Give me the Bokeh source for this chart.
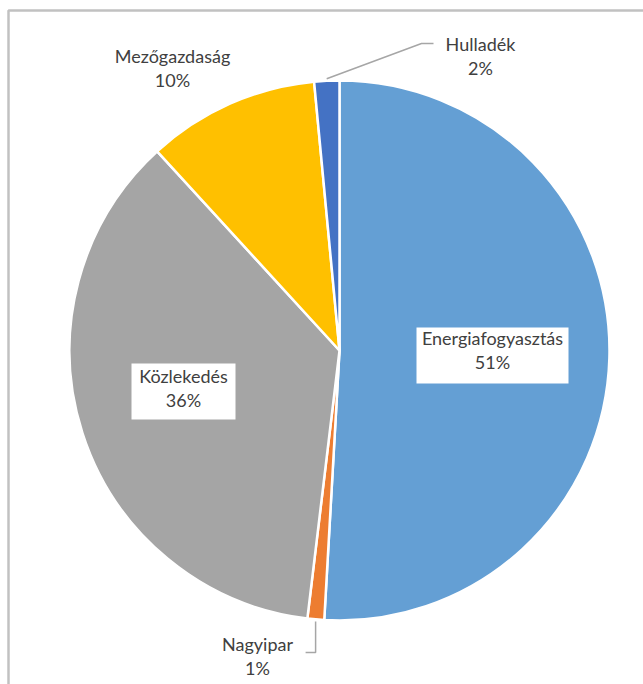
import math
from bokeh.plotting import figure
from bokeh.models import ColumnDataSource, BoxAnnotation
from bokeh.core.properties import value
from bokeh.embed import file_html
from bokeh.resources import INLINE

# ---- data ----
categories = ["Energiafogyasztás", "Nagyipar", "Közlekedés", "Mezőgazdaság", "Hulladék"]
shares = [50.9, 1.0, 36.3, 10.3, 1.5]
colors = ["#649FD4", "#ED7D31", "#A5A5A5", "#FFC000", "#4472C4"]

W, H = 643, 684
CX, CY, R = 339, H - 350, 270
FONT = "Lato"
TXT = "#404040"

total = sum(shares)
starts, ends, mids = [], [], []
cum = 0.0
for v in shares:
    a0 = cum / total
    cum += v
    a1 = cum / total
    # clockwise from 12 o'clock
    starts.append(math.pi / 2 - 2 * math.pi * a1)
    ends.append(math.pi / 2 - 2 * math.pi * a0)
    mids.append(math.pi / 2 - 2 * math.pi * (a0 + a1) / 2)
pct_labels = [f"{round(v / total * 100):.0f}%" for v in shares]

src = ColumnDataSource(dict(cat=categories, start=starts, end=ends, color=colors))

p = figure(width=W, height=H, x_range=(0, W), y_range=(0, H),
           output_backend="svg", toolbar_location=None, min_border=0)
p.axis.visible = False
p.grid.visible = False
p.outline_line_color = None
p.background_fill_color = "white"

p.wedge(x=CX, y=CY, radius=R, start_angle="start", end_angle="end",
        fill_color="color", line_color="white", line_width=2.5, source=src)

# frame around the chart (only top/left visible in the window)
p.add_layout(BoxAnnotation(left=8, right=W + 30, top=H - 10, bottom=-30,
                           fill_alpha=0, line_color="#333333", line_width=2.5))

def edge(i, extra=0):
    a = mids[i]
    return CX + (R + extra) * math.cos(a), CY + (R + extra) * math.sin(a)

# leader lines
hx, hy = edge(4, 2)
p.line([433, 421, hx], [H - 43, H - 43, hy], line_color="#A6A6A6", line_width=1.5)
nx, ny = edge(1, 2)
p.line([nx, nx, nx - 10], [ny, H - 652, H - 652], line_color="#A6A6A6", line_width=1.5)

# white label boxes
box_x = [492, 183]
box_y = [H - 355, H - 391]
box_w = [152, 104]
box_h = [56, 56]
p.rect(x=box_x, y=box_y, width=box_w, height=box_h, fill_color="white", line_color=None)

# label positions (screen coords of name line)
lab_x = [492, 257, 183, 172, 480]
lab_y = [337, 643, 375, 55, 43]
gap = 24
p.text(x=lab_x, y=[H - y for y in lab_y], text=categories,
       text_font=value(FONT), text_font_size="18px", text_color=TXT,
       text_align="center", text_baseline="middle")
p.text(x=lab_x, y=[H - y - gap for y in lab_y], text=pct_labels,
       text_font=value(FONT), text_font_size="18px", text_color=TXT,
       text_align="center", text_baseline="middle")

open("out.html", "w").write(file_html(p, INLINE))
